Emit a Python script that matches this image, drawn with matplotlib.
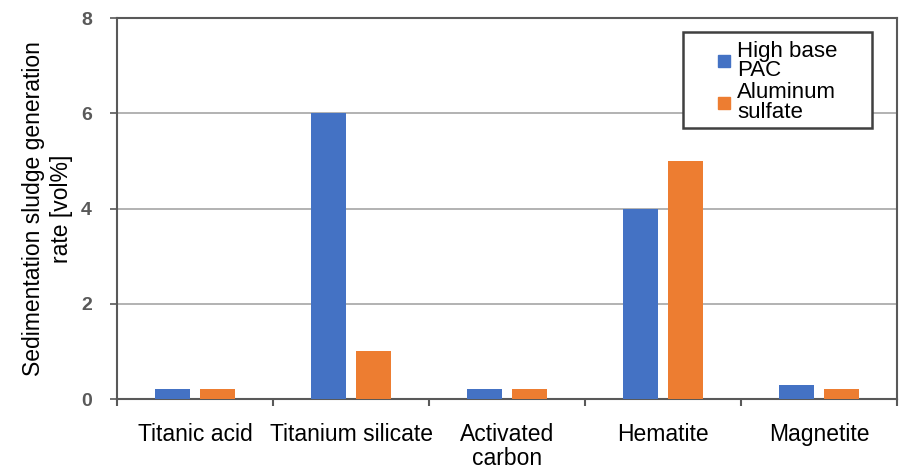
import numpy as np
import matplotlib.pyplot as plt
from matplotlib.lines import Line2D
from matplotlib.patches import Rectangle

categories = ['Titanic acid', 'Titanium silicate', 'Activated\ncarbon', 'Hematite', 'Magnetite']
high_base_pac = [0.2, 6.0, 0.2, 4.0, 0.3]
aluminum_sulfate = [0.2, 1.0, 0.2, 5.0, 0.2]
series_names = ['High base\nPAC', 'Aluminum\nsulfate']
colors = ['#4472C4', '#ED7D31']
yticks = [0, 2, 4, 6, 8]

plt.rcParams['font.family'] = ['Liberation Sans', 'DejaVu Sans']

fig = plt.figure(figsize=(9.01, 4.68), dpi=100)
ax = fig.add_axes([0.1299, 0.1474, 0.8657, 0.8141])

x = np.arange(len(categories))
w = 0.22
ax.bar(x - 0.145, high_base_pac, w, color=colors[0], zorder=3)
ax.bar(x + 0.145, aluminum_sulfate, w, color=colors[1], zorder=3)

ax.set_xlim(-0.5, len(categories) - 0.5)
ax.set_ylim(0, 8)
ax.set_yticks(yticks)
ax.set_yticklabels([str(v) for v in yticks], color='#595959', fontweight='bold', fontsize=14)
ax.yaxis.grid(True, color='#A6A6A6', lw=1.2, zorder=0)

ax.set_xticks(x)
ax.set_xticklabels(categories, fontsize=16.5, linespacing=1.05)
ax.set_xticks(np.arange(len(categories) + 1) - 0.5, minor=True)
ax.tick_params(axis='x', which='major', length=0, pad=17)
ax.tick_params(axis='x', which='minor', length=5, width=1.5, color='#595959', direction='out')
ax.tick_params(axis='y', length=5, width=1.2, color='#595959', pad=13)

for s in ax.spines.values():
    s.set_color('#595959')
    s.set_linewidth(1.5)

ax.set_ylabel('Sedimentation sludge generation\nrate [vol%]', fontsize=16.5, linespacing=1.25, labelpad=6)

# legend frame drawn separately (wide box around compact entries)
ax.add_patch(Rectangle((0.7256, 0.711), 0.2424, 0.252, transform=ax.transAxes, fill=True,
                       facecolor='white', edgecolor='#404040', lw=1.8, zorder=5, clip_on=False))
handles = [Line2D([], [], marker='s', ls='', color=c, markersize=8) for c in colors]
leg = ax.legend(handles, series_names, loc='upper left', bbox_to_anchor=(0.7667, 0.94),
                fontsize=16, frameon=False, handlelength=0.8, handletextpad=0.2,
                labelspacing=0.05, borderpad=0, borderaxespad=0)
leg.set_zorder(6)
for t in leg.get_texts():
    t.set_linespacing(0.9)

fig.savefig('out.png', dpi=100)
